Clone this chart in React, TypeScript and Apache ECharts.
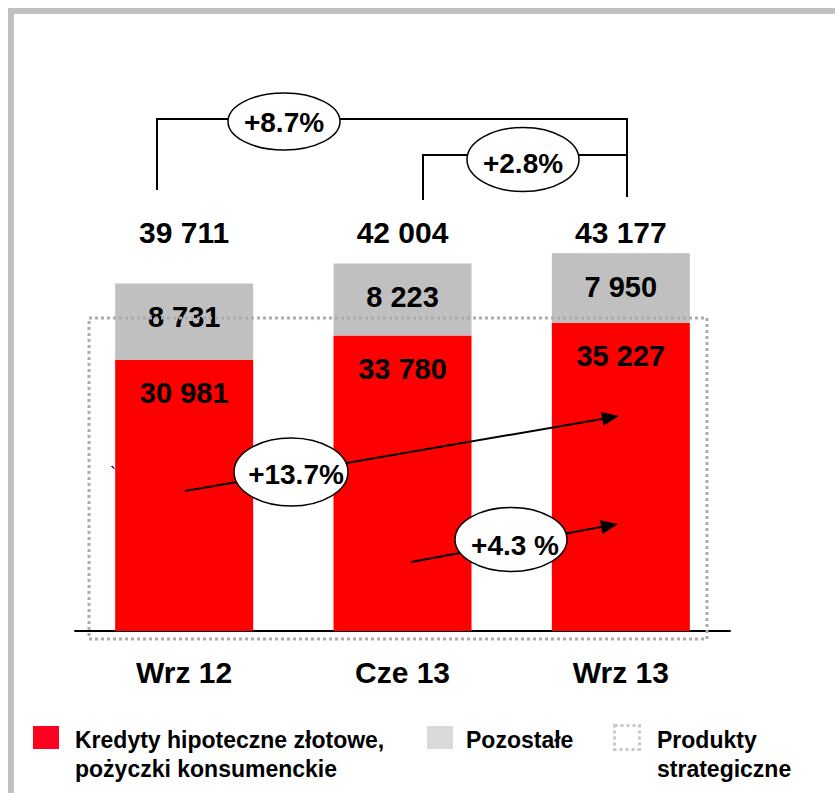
import React, { useEffect, useRef } from "react";
import * as echarts from "echarts";

const categories = ["Wrz 12", "Cze 13", "Wrz 13"];
const kredyty = [30981, 33780, 35227];
const pozostale = [8731, 8223, 7950];
const totals = [39711, 42004, 43177];
const changeLabels = ["+8.7%", "+2.8%", "+13.7%", "+4.3 %"];
const legendLabels = [
  "Kredyty hipoteczne złotowe,\npożyczki konsumenckie",
  "Pozostałe",
  "Produkty\nstrategiczne",
];
const TOTAL_LEVEL = 45600;

const FONT = "'Liberation Sans', Arial, sans-serif";
const fmt = (v: number) => String(v).replace(/\B(?=(\d{3})+(?!\d))/g, " ");

function arrow(x1: number, y1: number, x2: number, y2: number) {
  const dx = x2 - x1;
  const dy = y2 - y1;
  const len = Math.sqrt(dx * dx + dy * dy);
  const ux = dx / len;
  const uy = dy / len;
  const hl = 17;
  const hw = 7;
  const bx = x2 - ux * hl;
  const by = y2 - uy * hl;
  return [
    {
      type: "line",
      z: 50,
      shape: { x1, y1, x2: bx, y2: by },
      style: { stroke: "#000", lineWidth: 2 },
    },
    {
      type: "polygon",
      z: 50,
      shape: {
        points: [
          [x2, y2],
          [bx - uy * hw, by + ux * hw],
          [bx + uy * hw, by - ux * hw],
        ],
      },
      style: { fill: "#000" },
    },
  ];
}

function bubble(cx: number, cy: number, rx: number, ry: number, text: string, tx: number, ty: number) {
  return [
    {
      type: "ellipse",
      z: 60,
      shape: { cx, cy, rx, ry },
      style: { fill: "#fff", stroke: "#000", lineWidth: 1.5 },
    },
    {
      type: "text",
      z: 61,
      x: tx,
      y: ty,
      style: {
        text,
        fontSize: 28,
        fontWeight: "bold",
        fontFamily: FONT,
        fill: "#000",
        align: "center",
        verticalAlign: "middle",
      },
    },
  ];
}

export default function App() {
  const ref = useRef<HTMLDivElement>(null);
  useEffect(() => {
    if (!ref.current) return;
    const chart = echarts.init(ref.current, null, { renderer: "svg" });
    const barLabel = {
      show: true,
      position: "insideTop",
      distance: 19,
      fontSize: 29,
      fontWeight: "bold",
      fontFamily: FONT,
      color: "#000",
      textBorderWidth: 0,
      formatter: (p: any) => fmt(p.value),
    };
    const legendText = (x: number, text: string) => ({
      type: "text",
      x,
      y: 725,
      style: {
        text,
        fontSize: 23,
        fontWeight: "bold",
        fontFamily: FONT,
        fill: "#000",
        lineHeight: 29,
        verticalAlign: "top",
        align: "left",
      },
    });
    chart.setOption({
      animation: false,
      grid: { left: 75, right: 105, top: 106, bottom: 162 },
      xAxis: {
        type: "category",
        data: categories,
        axisLine: { lineStyle: { color: "#000", width: 2 } },
        axisTick: { show: false },
        axisLabel: {
          fontSize: 30,
          fontWeight: "bold",
          fontFamily: FONT,
          color: "#000",
          margin: 26,
        },
      },
      yAxis: { type: "value", min: 0, max: 60000, show: false, splitLine: { show: false } },
      series: [
        {
          type: "bar",
          stack: "a",
          barWidth: 138,
          data: kredyty,
          itemStyle: { color: "#ff0000" },
          label: barLabel,
        },
        {
          type: "bar",
          stack: "a",
          barWidth: 138,
          data: pozostale,
          itemStyle: { color: "#c0c0c0" },
          label: barLabel,
        },
        {
          type: "scatter",
          data: totals.map(() => TOTAL_LEVEL),
          symbolSize: 1,
          itemStyle: { color: "#ffffff", opacity: 1 },
          label: {
            show: true,
            position: "inside",
            fontSize: 30,
            fontWeight: "bold",
            fontFamily: FONT,
            color: "#000000",
            opacity: 1,
            textBorderColor: "rgba(0,0,0,0)",
            textBorderWidth: 0,
            formatter: (p: any) => fmt(totals[p.dataIndex]),
          },
        },
      ],
      graphic: [
        {
          type: "rect",
          z: 100,
          shape: { x: 11, y: 11, width: 1000, height: 1000 },
          style: { fill: "none", stroke: "#c0c0c0", lineWidth: 6 },
        },
        {
          type: "rect",
          z: 100,
          shape: { x: 89, y: 318, width: 618, height: 321 },
          style: { fill: "none", stroke: "#acacac", lineWidth: 3, lineDash: [3, 3] },
        },
        {
          type: "polyline",
          z: 40,
          shape: { points: [[157, 190], [157, 119], [627, 119], [627, 197]] },
          style: { stroke: "#000", lineWidth: 2, fill: "none" },
        },
        {
          type: "polyline",
          z: 40,
          shape: { points: [[423, 200], [423, 155], [627, 155]] },
          style: { stroke: "#000", lineWidth: 2, fill: "none" },
        },
        ...bubble(284, 121.5, 56, 28.5, changeLabels[0], 284, 122),
        ...bubble(523, 159.5, 56, 32, changeLabels[1], 523, 163),
        ...arrow(185, 491, 619, 416),
        ...arrow(411, 562, 618, 524),
        ...bubble(291, 472, 57, 34, changeLabels[2], 296, 474),
        ...bubble(511, 539.5, 56, 32, changeLabels[3], 515, 545),
        {
          type: "text",
          x: 110,
          y: 465,
          style: { text: "`", fontSize: 18, fontFamily: FONT, fill: "#000" },
        },
        {
          type: "rect",
          shape: { x: 33, y: 726, width: 26, height: 23 },
          style: { fill: "#ff0021" },
        },
        legendText(75, legendLabels[0]),
        {
          type: "rect",
          shape: { x: 427, y: 726, width: 26, height: 23 },
          style: { fill: "#d9d9d9" },
        },
        legendText(466, legendLabels[1]),
        {
          type: "rect",
          shape: { x: 614.5, y: 725.5, width: 25, height: 24 },
          style: { fill: "none", stroke: "#c8c8c8", lineWidth: 3, lineDash: [3, 3] },
        },
        legendText(657, legendLabels[2]),
      ],
    });
    return () => chart.dispose();
  }, []);
  return (
    <div
      ref={ref}
      style={{ position: "absolute", left: 0, top: 0, width: 835, height: 793, background: "#fff" }}
    />
  );
}
